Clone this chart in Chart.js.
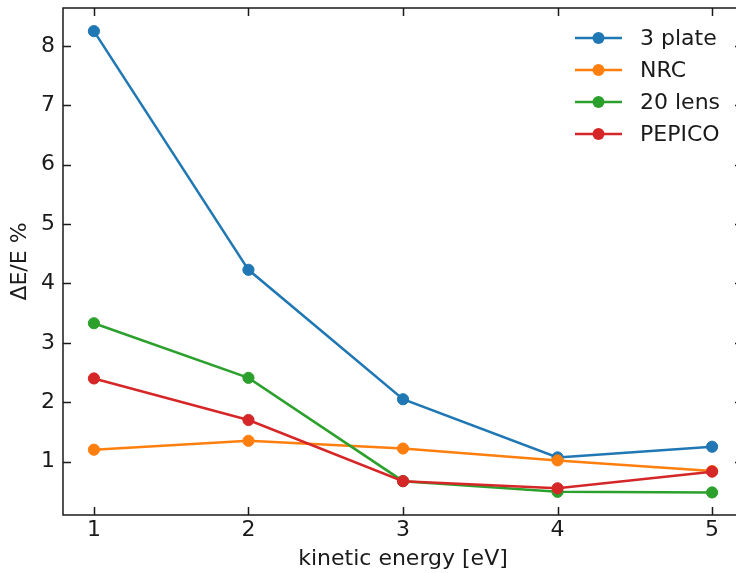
<!DOCTYPE html>
<html>
<head>
<meta charset="utf-8">
<script src="https://cdn.jsdelivr.net/npm/chart.js@4"></script>
<style>
html,body{margin:0;padding:0;background:#fff;overflow:hidden}
canvas{display:block}
</style>
</head>
<body>
<canvas id="c" width="750" height="573"></canvas>
<script>
"use strict"

var energies=[1,2,3,4,5]
var plate3=[8.25,4.23,2.05,1.07,1.25]
var nrc=[1.20,1.35,1.22,1.02,0.84]
var lens20=[3.33,2.41,0.67,0.49,0.48]
var pepico=[2.40,1.70,0.67,0.55,0.83]
var names=['3 plate','NRC','20 lens','PEPICO']
var xTicks=[1,2,3,4,5]
var yTicks=[1,2,3,4,5,6,7,8]
var colors=['#1f77b4','#ff7f0e','#2ca02c','#d62728']

var ink='#1a1a1a'
Chart.defaults.font.family='DejaVu Sans'
Chart.defaults.font.size=22
Chart.defaults.color=ink

function points(vals){
	return vals.map(function(v,i){ return {x:energies[i],y:v} })
}

var datasets=[plate3,nrc,lens20,pepico].map(function(vals,i){
	return {
		label: names[i],
		data: points(vals),
		borderColor: colors[i],
		backgroundColor: colors[i],
		borderWidth: 2.5,
		pointRadius: 5.6,
		pointBorderWidth: 1,
		pointHoverRadius: 5.6,
		// later series sit on top, like matplotlib
		order: 3-i
	}
})

// box with inward ticks on all four sides, plus a frameless legend
var frame={
	id:'frame',
	afterDraw: function(chart){
		var ctx=chart.ctx, a=chart.chartArea
		var xs=chart.scales.x, ys=chart.scales.y
		var tl=8
		ctx.save()
		ctx.strokeStyle=ink
		ctx.lineWidth=1.5
		ctx.strokeRect(a.left,a.top,a.right-a.left,a.bottom-a.top)
		ctx.beginPath()
		xTicks.forEach(function(v){
			var px=Math.round(xs.getPixelForValue(v))+0.5
			ctx.moveTo(px,a.bottom); ctx.lineTo(px,a.bottom-tl)
			ctx.moveTo(px,a.top); ctx.lineTo(px,a.top+tl)
		})
		yTicks.forEach(function(v){
			var py=Math.round(ys.getPixelForValue(v))+0.5
			ctx.moveTo(a.left,py); ctx.lineTo(a.left+tl,py)
			ctx.moveTo(a.right,py); ctx.lineTo(a.right-tl,py)
		})
		ctx.stroke()

		var lx=575, tx=640, y0=38, dy=32
		ctx.font='22px "DejaVu Sans"'
		ctx.textBaseline='middle'
		ctx.textAlign='left'
		chart.data.datasets.forEach(function(ds,i){
			var y=y0+i*dy
			ctx.strokeStyle=ds.borderColor
			ctx.lineWidth=2.5
			ctx.beginPath(); ctx.moveTo(lx,y); ctx.lineTo(lx+47,y); ctx.stroke()
			ctx.fillStyle=ds.borderColor
			ctx.beginPath(); ctx.arc(lx+23.5,y,6,0,Math.PI*2); ctx.fill()
			ctx.fillStyle=ink
			ctx.fillText(ds.label,tx,y+1)
		})
		ctx.restore()
	}
}

new Chart(document.getElementById('c'),{
	type:'line',
	data:{datasets:datasets},
	options:{
		responsive:false,
		animation:false,
		layout:{padding:{top:8,right:7,left:0,bottom:0}},
		plugins:{legend:{display:false},tooltip:{enabled:false}},
		scales:{
			x:{
				type:'linear',
				min:0.8,max:5.2,
				afterBuildTicks:function(s){ s.ticks=xTicks.map(function(v){return {value:v}}) },
				afterFit:function(s){ s.height=58; s.paddingLeft=0; s.paddingRight=0 },
				grid:{display:false,drawTicks:false},
				border:{display:false},
				ticks:{padding:2,maxRotation:0},
				title:{display:true,text:'kinetic energy [eV]',padding:{top:0,bottom:1}}
			},
			y:{
				type:'linear',
				min:0.1,max:8.64,
				afterBuildTicks:function(s){ s.ticks=yTicks.map(function(v){return {value:v}}) },
				afterFit:function(s){ s.width=63; s.paddingTop=0; s.paddingBottom=0 },
				grid:{display:false,drawTicks:false},
				border:{display:false},
				ticks:{padding:8},
				title:{display:true,text:'ΔE/E %',padding:{top:7,bottom:0}}
			}
		}
	},
	plugins:[frame]
})
</script>
</body>
</html>
